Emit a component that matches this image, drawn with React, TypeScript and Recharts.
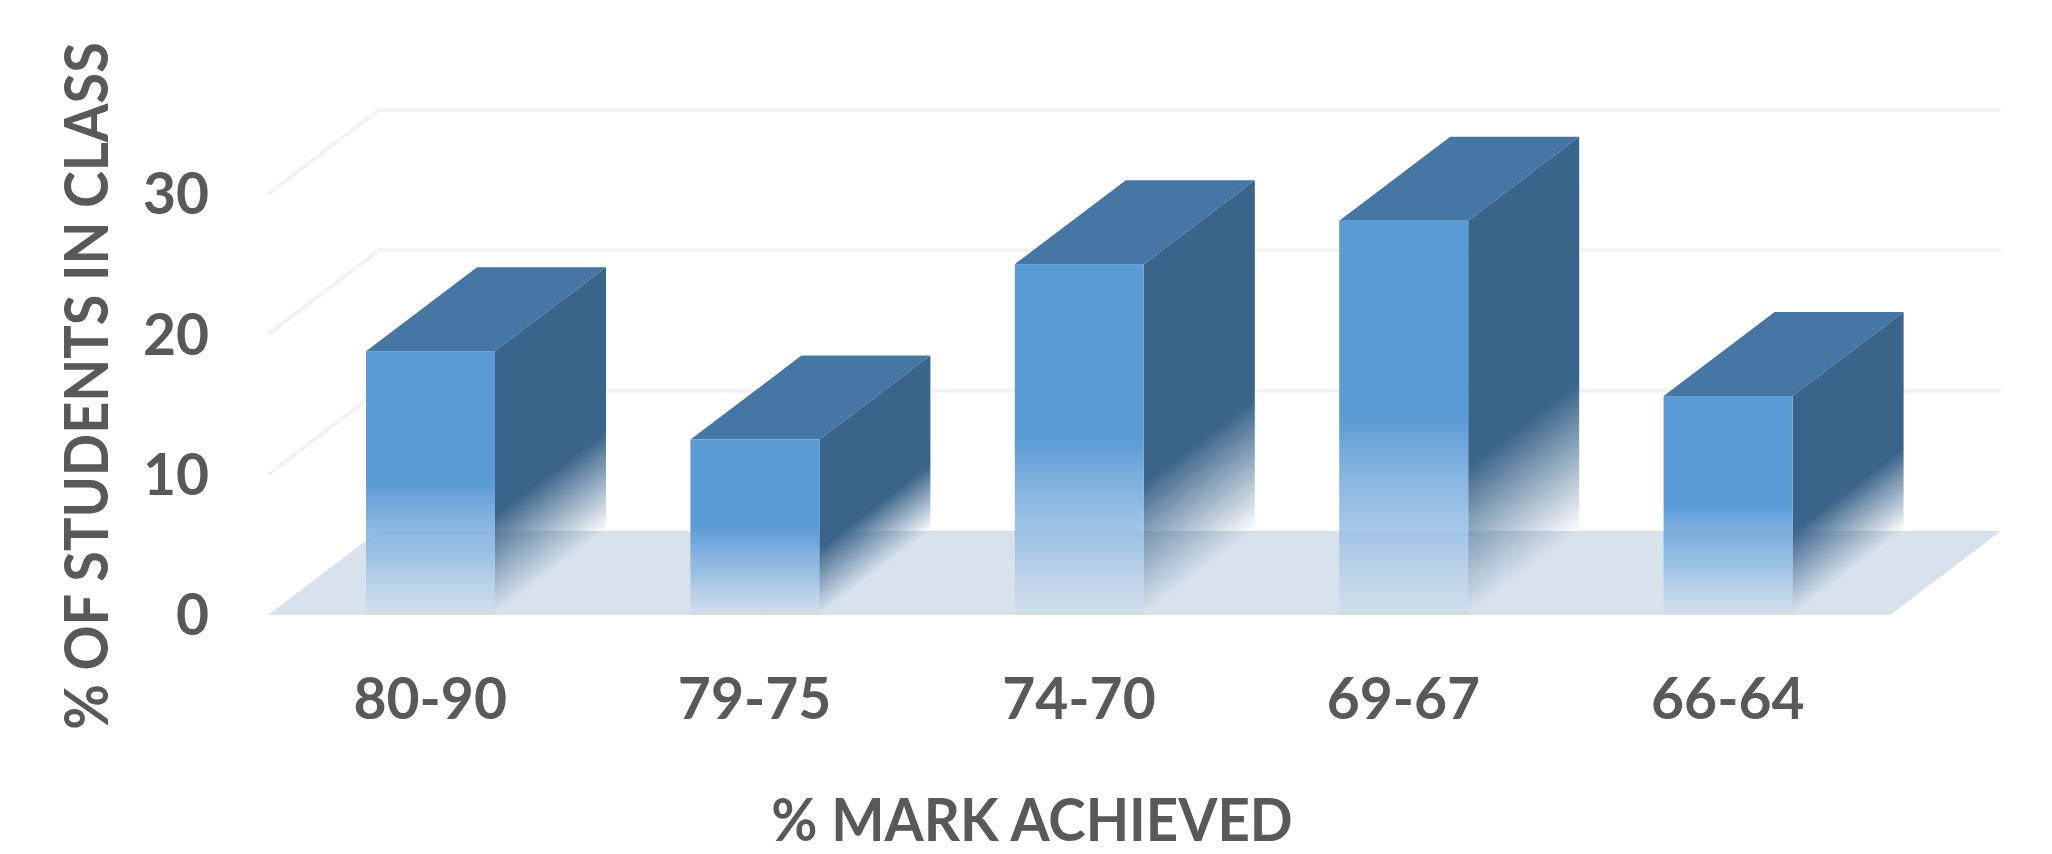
import { BarChart, Bar, XAxis, YAxis, CartesianGrid } from "recharts";

const markBands = ["80-90", "79-75", "74-70", "69-67", "66-64"];
const studentPercents = [18.8, 12.5, 25, 28.1, 15.6];
const yTicks = [0, 10, 20, 30];

const chartData = markBands.map((band, i) => ({ band, percent: studentPercents[i] }));

const WIDTH = 2052;
const HEIGHT = 854;
const X_AXIS_HEIGHT = 30;
const Y_AXIS_WIDTH = 268;
const MARGIN = { top: 194, right: 162, bottom: 239 - X_AXIS_HEIGHT, left: 0 };
const DEPTH_X = 111;
const DEPTH_Y = 84;
const BASELINE = HEIGHT - 239;
const TEXT = "#595959";
const FONT = "Lato, sans-serif";

// slanted side-wall and back-wall line for every gridline, the zero line gets the floor
function GridLine(props: any) {
  const { x1, x2, y1 } = props;
  if (Math.abs(y1 - BASELINE) < 1) {
    const points = `${x1},${y1} ${x2},${y1} ${x2 + DEPTH_X},${y1 - DEPTH_Y} ${x1 + DEPTH_X},${y1 - DEPTH_Y}`;
    return <polygon key="floor" points={points} fill="#d8e2ec" />;
  }
  const points = `${x1},${y1} ${x1 + DEPTH_X},${y1 - DEPTH_Y} ${x2 + DEPTH_X},${y1 - DEPTH_Y}`;
  return <polyline key={y1} points={points} fill="none" stroke="#f2f2f2" strokeWidth={4} />;
}

function Bar3D(props: any) {
  const { x, y, width, height } = props;
  const right = x + width;
  const top = `${x},${y} ${right},${y} ${right + DEPTH_X},${y - DEPTH_Y} ${x + DEPTH_X},${y - DEPTH_Y}`;
  const slope = -DEPTH_Y / DEPTH_X;
  return (
    <g>
      <polygon points={top} fill="#4676a4" />
      <rect
        x={0}
        y={0}
        width={DEPTH_X}
        height={height}
        fill="url(#sideFade)"
        transform={`matrix(1 ${slope} 0 1 ${right} ${y})`}
      />
      <rect x={x} y={y} width={width} height={height} fill="url(#frontFade)" />
    </g>
  );
}

function XTitle() {
  return (
    <text
      transform="translate(1032 841) scale(0.94 1)"
      textAnchor="middle"
      fontFamily={FONT}
      fontWeight={700}
      fontSize={60}
      fill={TEXT}
    >
      % MARK ACHIEVED
    </text>
  );
}

function YTitle() {
  return (
    <text
      transform="translate(108 386) rotate(-90) scale(0.9 1)"
      textAnchor="middle"
      fontFamily={FONT}
      fontWeight={700}
      fontSize={62}
      fill={TEXT}
    >
      % OF STUDENTS IN CLASS
    </text>
  );
}

export default function App() {
  return (
    <div style={{ position: "absolute", left: 0, top: 0, width: WIDTH, height: HEIGHT, background: "#fff" }}>
      <BarChart width={WIDTH} height={HEIGHT} data={chartData} margin={MARGIN} barSize={129}>
        <defs>
          <linearGradient id="frontFade" x1="0" y1="0" x2="0" y2="1">
            <stop offset="50%" stopColor="#5b9bd5" stopOpacity={1} />
            <stop offset="78%" stopColor="#8fbae3" stopOpacity={0.8} />
            <stop offset="100%" stopColor="#a9c8e8" stopOpacity={0.15} />
          </linearGradient>
          <linearGradient id="sideFade" x1="0" y1="0" x2="0" y2="1">
            <stop offset="62%" stopColor="#3a6489" stopOpacity={1} />
            <stop offset="100%" stopColor="#3a6489" stopOpacity={0} />
          </linearGradient>
        </defs>
        <CartesianGrid vertical={false} horizontal={GridLine} />
        <XAxis
          dataKey="band"
          height={X_AXIS_HEIGHT}
          axisLine={false}
          tickLine={false}
          tickSize={0}
          tickMargin={64}
          interval={0}
          tick={{ fill: TEXT, fontFamily: FONT, fontWeight: 700, fontSize: 57 }}
        />
        <YAxis
          domain={[0, 30]}
          ticks={yTicks}
          width={Y_AXIS_WIDTH}
          axisLine={false}
          tickLine={false}
          tickSize={0}
          tickMargin={59}
          tick={{ fill: TEXT, fontFamily: FONT, fontWeight: 700, fontSize: 57 }}
        />
        <Bar dataKey="percent" shape={Bar3D} isAnimationActive={false} />
        <XTitle />
        <YTitle />
      </BarChart>
    </div>
  );
}
